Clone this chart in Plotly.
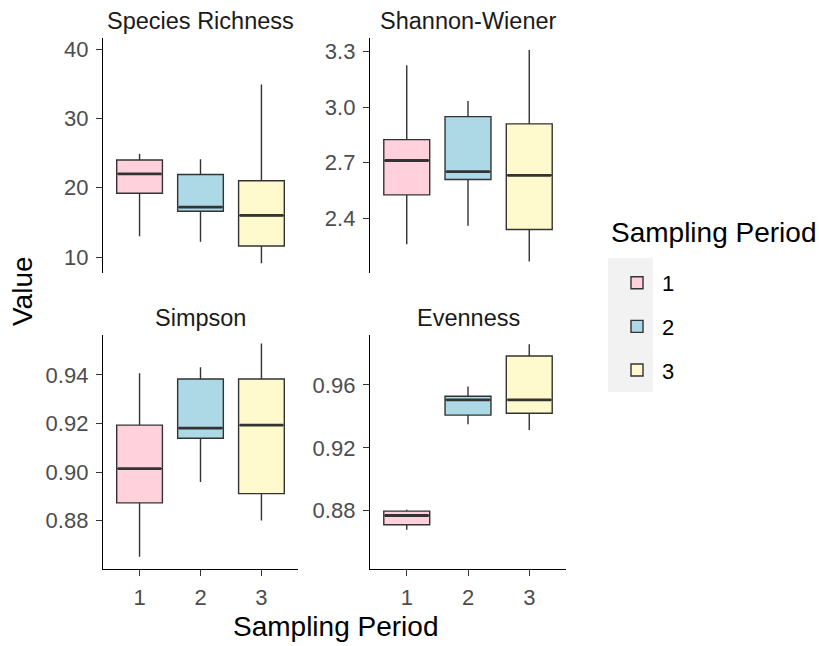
import plotly.graph_objects as go

W, H = 819, 646

periods = [1, 2, 3]
period_labels = ["1", "2", "3"]
colors = ["#FFD1DC", "#ADD8E6", "#FFFACD"]

metrics = ["Species Richness", "Shannon-Wiener", "Simpson", "Evenness"]

# per metric: lists over periods 1,2,3
rich_min = [13.0, 12.2, 9.1]
rich_q1 = [19.2, 16.6, 11.6]
rich_med = [22.0, 17.2, 16.0]
rich_q3 = [24.0, 21.9, 21.0]
rich_max = [24.9, 24.1, 34.9]

shan_min = [2.26, 2.36, 2.166]
shan_q1 = [2.526, 2.609, 2.339]
shan_med = [2.712, 2.652, 2.632]
shan_q3 = [2.825, 2.949, 2.910]
shan_max = [3.227, 3.033, 3.309]

simp_min = [0.8651, 0.8959, 0.8801]
simp_q1 = [0.8873, 0.9139, 0.8911]
simp_med = [0.9014, 0.9181, 0.9193]
simp_q3 = [0.9193, 0.9383, 0.9383]
simp_max = [0.9407, 0.9431, 0.9529]

even_min = [0.8679, 0.9350, 0.9314]
even_q1 = [0.8711, 0.9408, 0.9420]
even_med = [0.8770, 0.9505, 0.9505]
even_q3 = [0.8798, 0.9528, 0.9784]
even_max = [0.8806, 0.9590, 0.9858]

stats = {
    "Species Richness": (rich_min, rich_q1, rich_med, rich_q3, rich_max),
    "Shannon-Wiener": (shan_min, shan_q1, shan_med, shan_q3, shan_max),
    "Simpson": (simp_min, simp_q1, simp_med, simp_q3, simp_max),
    "Evenness": (even_min, even_q1, even_med, even_q3, even_max),
}

y_ticks = {
    "Species Richness": [10, 20, 30, 40],
    "Shannon-Wiener": [2.4, 2.7, 3.0, 3.3],
    "Simpson": [0.88, 0.90, 0.92, 0.94],
    "Evenness": [0.88, 0.92, 0.96],
}
y_ticktext = {
    "Species Richness": ["10", "20", "30", "40"],
    "Shannon-Wiener": ["2.4", "2.7", "3.0", "3.3"],
    "Simpson": ["0.88", "0.90", "0.92", "0.94"],
    "Evenness": ["0.88", "0.92", "0.96"],
}
y_ranges = {
    "Species Richness": [7.7, 41.6],
    "Shannon-Wiener": [2.104, 3.374],
    "Simpson": [0.8601, 0.9564],
    "Evenness": [0.843, 0.9917],
}

# panel pixel geometry (left, right, top, bottom)
panels = {
    "Species Richness": (103, 298, 38, 273),
    "Shannon-Wiener": (370, 566, 38, 273),
    "Simpson": (103, 298, 335, 569),
    "Evenness": (370, 566, 335, 569),
}

BOX_W = 0.75
OUTLINE = "#333333"
FONT = "Liberation Sans, Arial, sans-serif"
TICK_SIZE = 22
STRIP_SIZE = 23.5
TITLE_SIZE = 28

fig = go.Figure()
layout = {}
for k, m in enumerate(metrics):
    idx = k + 1
    xa = "x" if idx == 1 else f"x{idx}"
    ya = "y" if idx == 1 else f"y{idx}"
    mn, q1, med, q3, mx = stats[m]
    for i, p in enumerate(periods):
        fig.add_trace(go.Box(
            x=[p], q1=[q1[i]], median=[med[i]], q3=[q3[i]],
            lowerfence=[mn[i]], upperfence=[mx[i]],
            width=BOX_W, whiskerwidth=0,
            fillcolor=colors[i], line=dict(color=OUTLINE, width=1.4),
            name=period_labels[i], legendgroup=period_labels[i],
            showlegend=(k == 0), xaxis=xa, yaxis=ya, boxpoints=False,
            hoverinfo="skip",
        ))
        # thicker median line (ggplot fatten)
        fig.add_trace(go.Scatter(
            x=[p - BOX_W / 2 + 0.02, p + BOX_W / 2 - 0.02], y=[med[i], med[i]],
            mode="lines", line=dict(color=OUTLINE, width=2.8),
            showlegend=False, xaxis=xa, yaxis=ya, hoverinfo="skip",
        ))
    L, R, T, B = panels[m]
    bottom_row = m in ("Simpson", "Evenness")
    xkey = "xaxis" if idx == 1 else f"xaxis{idx}"
    ykey = "yaxis" if idx == 1 else f"yaxis{idx}"
    layout[xkey] = dict(
        domain=[L / W, R / W], anchor=ya, range=[0.4, 3.6],
        tickvals=periods if bottom_row else [], ticktext=period_labels if bottom_row else [],
        showticklabels=bottom_row, ticks="outside" if bottom_row else "",
        ticklen=6, tickwidth=1.2, tickcolor=OUTLINE, ticklabelstandoff=2,
        showline=bottom_row, linecolor="black", linewidth=1.3,
        showgrid=False, zeroline=False,
        tickfont=dict(size=TICK_SIZE, color="#4D4D4D", family=FONT),
    )
    layout[ykey] = dict(
        domain=[1 - B / H, 1 - T / H], anchor=xa, range=y_ranges[m],
        tickvals=y_ticks[m], ticktext=y_ticktext[m],
        ticks="outside", ticklen=6, tickwidth=1.2, tickcolor=OUTLINE, ticklabelstandoff=3,
        showline=True, linecolor="black", linewidth=1.3,
        showgrid=False, zeroline=False,
        tickfont=dict(size=TICK_SIZE, color="#4D4D4D", family=FONT),
    )

annotations = []
for m in metrics:
    L, R, T, B = panels[m]
    annotations.append(dict(
        text=m, x=(L + R) / 2 / W, y=1 - (T - 17) / H, xref="paper", yref="paper",
        showarrow=False, xanchor="center", yanchor="middle",
        font=dict(size=STRIP_SIZE, color="#1A1A1A", family=FONT),
    ))
annotations.append(dict(
    text="Value", x=22 / W, y=1 - 291 / H, xref="paper", yref="paper",
    showarrow=False, textangle=-90, xanchor="center", yanchor="middle",
    font=dict(size=TITLE_SIZE, color="black", family=FONT),
))
annotations.append(dict(
    text="Sampling Period", x=335 / W, y=1 - 626 / H, xref="paper", yref="paper",
    showarrow=False, xanchor="center", yanchor="middle",
    font=dict(size=TITLE_SIZE, color="black", family=FONT),
))
annotations.append(dict(
    text="Sampling Period", x=609 / W, y=1 - 233 / H, xref="paper", yref="paper",
    showarrow=False, xanchor="left", yanchor="middle",
    font=dict(size=TITLE_SIZE, color="black", family=FONT),
))

shapes = [dict(
    type="rect", xref="paper", yref="paper",
    x0=608 / W, x1=653 / W, y0=1 - 392 / H, y1=1 - 258 / H,
    fillcolor="#F2F2F2", line=dict(width=0), layer="below",
)]

fig.update_layout(
    width=W, height=H,
    margin=dict(l=0, r=0, t=0, b=0),
    paper_bgcolor="white", plot_bgcolor="rgba(0,0,0,0)",
    boxmode="overlay",
    annotations=annotations,
    shapes=shapes,
    legend=dict(
        font=dict(size=TICK_SIZE, color="black", family=FONT),
        x=612 / W, y=1 - 262 / H, xanchor="left", yanchor="top",
        bgcolor="rgba(0,0,0,0)", tracegroupgap=12, itemwidth=40,
    ),
    **layout,
)

fig.write_html("out.html", config={"displayModeBar": False},
               post_script="document.body.style.margin='0';")
